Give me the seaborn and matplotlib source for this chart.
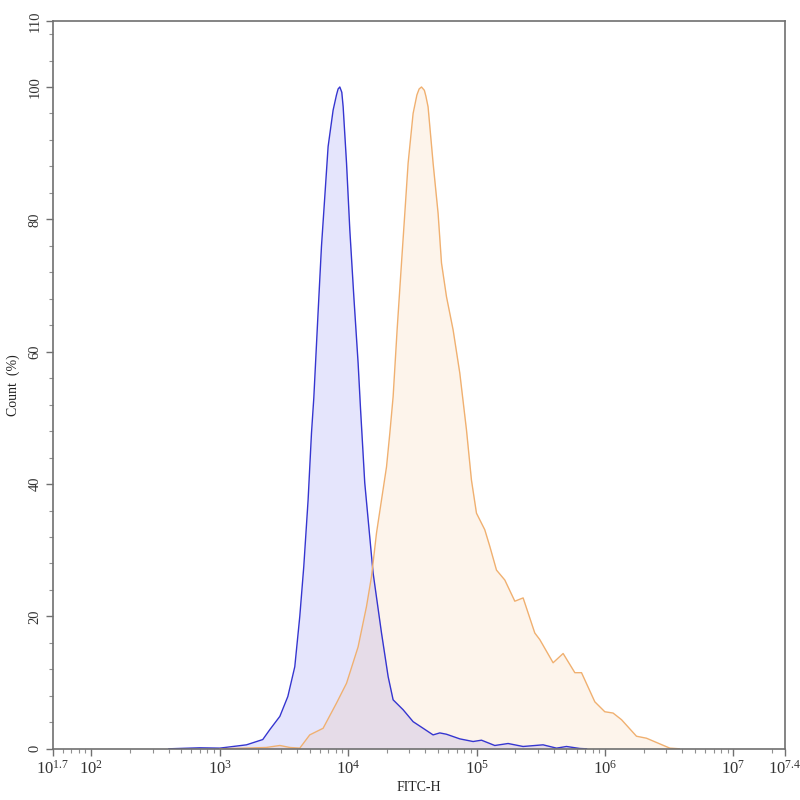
import numpy as np
import pandas as pd
import matplotlib
matplotlib.use("Agg")
import matplotlib.pyplot as plt
import matplotlib.ticker as mticker
import seaborn as sns

# FITC-H values and count (%)
blue_x = [400, 700, 1000, 1615, 2163, 2455, 2938, 3390, 3840, 4200, 4510, 4875,
          5180, 5400, 5830, 6195, 6575, 6980, 7635, 8110, 8350, 8610, 8920, 9140,
          9710, 10300, 11070, 11950, 12470, 13460, 15630, 18180, 20480, 22390,
          26790, 32040, 38350, 45850, 51700, 58300, 74000, 93900, 109200, 138600,
          175900, 230000, 329500, 419000, 501000, 636000, 720000]
blue_y = [0.0, 0.15, 0.1, 0.6, 1.4, 2.9, 4.9, 7.9, 12.4, 20.0, 27.5, 37.6,
          47.7, 53.0, 65.9, 75.9, 83.4, 91.0, 96.5, 98.8, 99.7, 100.0, 99.2, 97.0,
          88.5, 78.4, 68.3, 58.3, 51.5, 40.2, 26.6, 17.5, 10.9, 7.4,
          5.9, 4.1, 3.1, 2.1, 2.4, 2.2, 1.5, 1.1, 1.3, 0.5,
          0.8, 0.35, 0.6, 0.1, 0.35, 0.05, 0.0]

orange_x = [1000, 1514, 2300, 2938, 3515, 4200, 5020, 6380, 8110, 9710, 11950,
            13890, 15190, 16620, 18180, 19890, 21110, 22390, 24050, 26020,
            27610, 29300, 32040, 34300, 35700, 37230, 39200, 40300, 41900, 45850,
            50150, 53300, 58300, 65640, 73960, 83400, 91200, 99800, 115800,
            126700, 142900, 165900, 198500, 230300, 283900, 310600, 394300,
            472000, 582300, 656300, 833000, 996000, 1156000, 1344000, 1758000,
            2103000, 3197000, 3800000]
orange_y = [0.0, 0.1, 0.2, 0.5, 0.2, 0.1, 2.1, 3.1, 6.9, 9.9, 15.4,
            21.5, 26.0, 32.6, 37.6, 42.6, 47.7, 53.2, 63.3, 73.4,
            80.9, 88.5, 96.0, 98.8, 99.7, 100.0, 99.5, 98.6, 97.0, 88.5,
            80.9, 73.4, 68.3, 63.3, 56.8, 48.2, 40.6, 35.6, 33.1,
            30.6, 27.0, 25.5, 22.3, 22.8, 17.5, 16.5, 13.0,
            14.4, 11.5, 11.5, 7.1, 5.6, 5.4, 4.4, 1.9,
            1.6, 0.1, 0.0]

x_tick_vals = [10**1.7, 1e2, 1e3, 1e4, 1e5, 1e6, 1e7, 10**7.4]
x_tick_labels = [r"$10^{1.7}$", r"$10^{2}$", r"$10^{3}$", r"$10^{4}$",
                 r"$10^{5}$", r"$10^{6}$", r"$10^{7}$", r"$10^{7.4}$"]
y_tick_vals = [0, 20, 40, 60, 80, 100, 110]

blue_df = pd.DataFrame({"x": blue_x, "y": blue_y})
orange_df = pd.DataFrame({"x": orange_x, "y": orange_y})

sns.set_style("white")
plt.rcParams["font.family"] = ["Liberation Serif", "DejaVu Serif"]
plt.rcParams["mathtext.fontset"] = "custom"
plt.rcParams["mathtext.rm"] = "Liberation Serif"
plt.rcParams["mathtext.it"] = "Liberation Serif"

fig = plt.figure(figsize=(8, 8), dpi=100)
ax = fig.add_axes([0.066, 0.064, 0.915, 0.910])

# fills
ax.fill_between(blue_df["x"], 0, blue_df["y"], color=(0.0, 0.0, 0.9), alpha=0.1, lw=0)
ax.fill_between(orange_df["x"], 0, orange_df["y"], color=(0.94, 0.58, 0.24), alpha=0.1, lw=0)

sns.lineplot(data=blue_df, x="x", y="y", ax=ax, color="#3535d0", lw=1.0, sort=False)
sns.lineplot(data=orange_df, x="x", y="y", ax=ax, color="#f0b070", lw=1.0, sort=False)

ax.set_xscale("log")
ax.set_xlim(10**1.7, 10**7.4)
ax.set_ylim(0, 110)

ax.set_xticks(x_tick_vals)
ax.set_xticklabels(x_tick_labels, fontsize=12)
ax.xaxis.set_minor_locator(mticker.LogLocator(base=10, subs=np.arange(2, 10), numticks=20))
ax.xaxis.set_minor_formatter(mticker.NullFormatter())

ax.set_yticks(y_tick_vals)
ax.set_yticklabels([str(v) for v in y_tick_vals], rotation=90, va="center", fontsize=10.5)
ax.yaxis.set_minor_locator(mticker.FixedLocator([v for v in range(4, 110, 4) if v % 20 != 0]))

for s in ax.spines.values():
    s.set_color("#707070")
    s.set_linewidth(1.2)
ax.tick_params(which="major", direction="out", length=5, width=1, color="#707070",
               labelcolor="#333333", left=True, bottom=True, pad=3)
ax.tick_params(which="minor", direction="out", length=3, width=0.8, color="#909090",
               left=True, bottom=True)

ax.set_xlabel("FITC-H", fontsize=10, color="#222222", labelpad=2)
ax.set_ylabel("Count  (%)", fontsize=10, color="#222222", labelpad=6)

fig.savefig("out.png", dpi=100)
